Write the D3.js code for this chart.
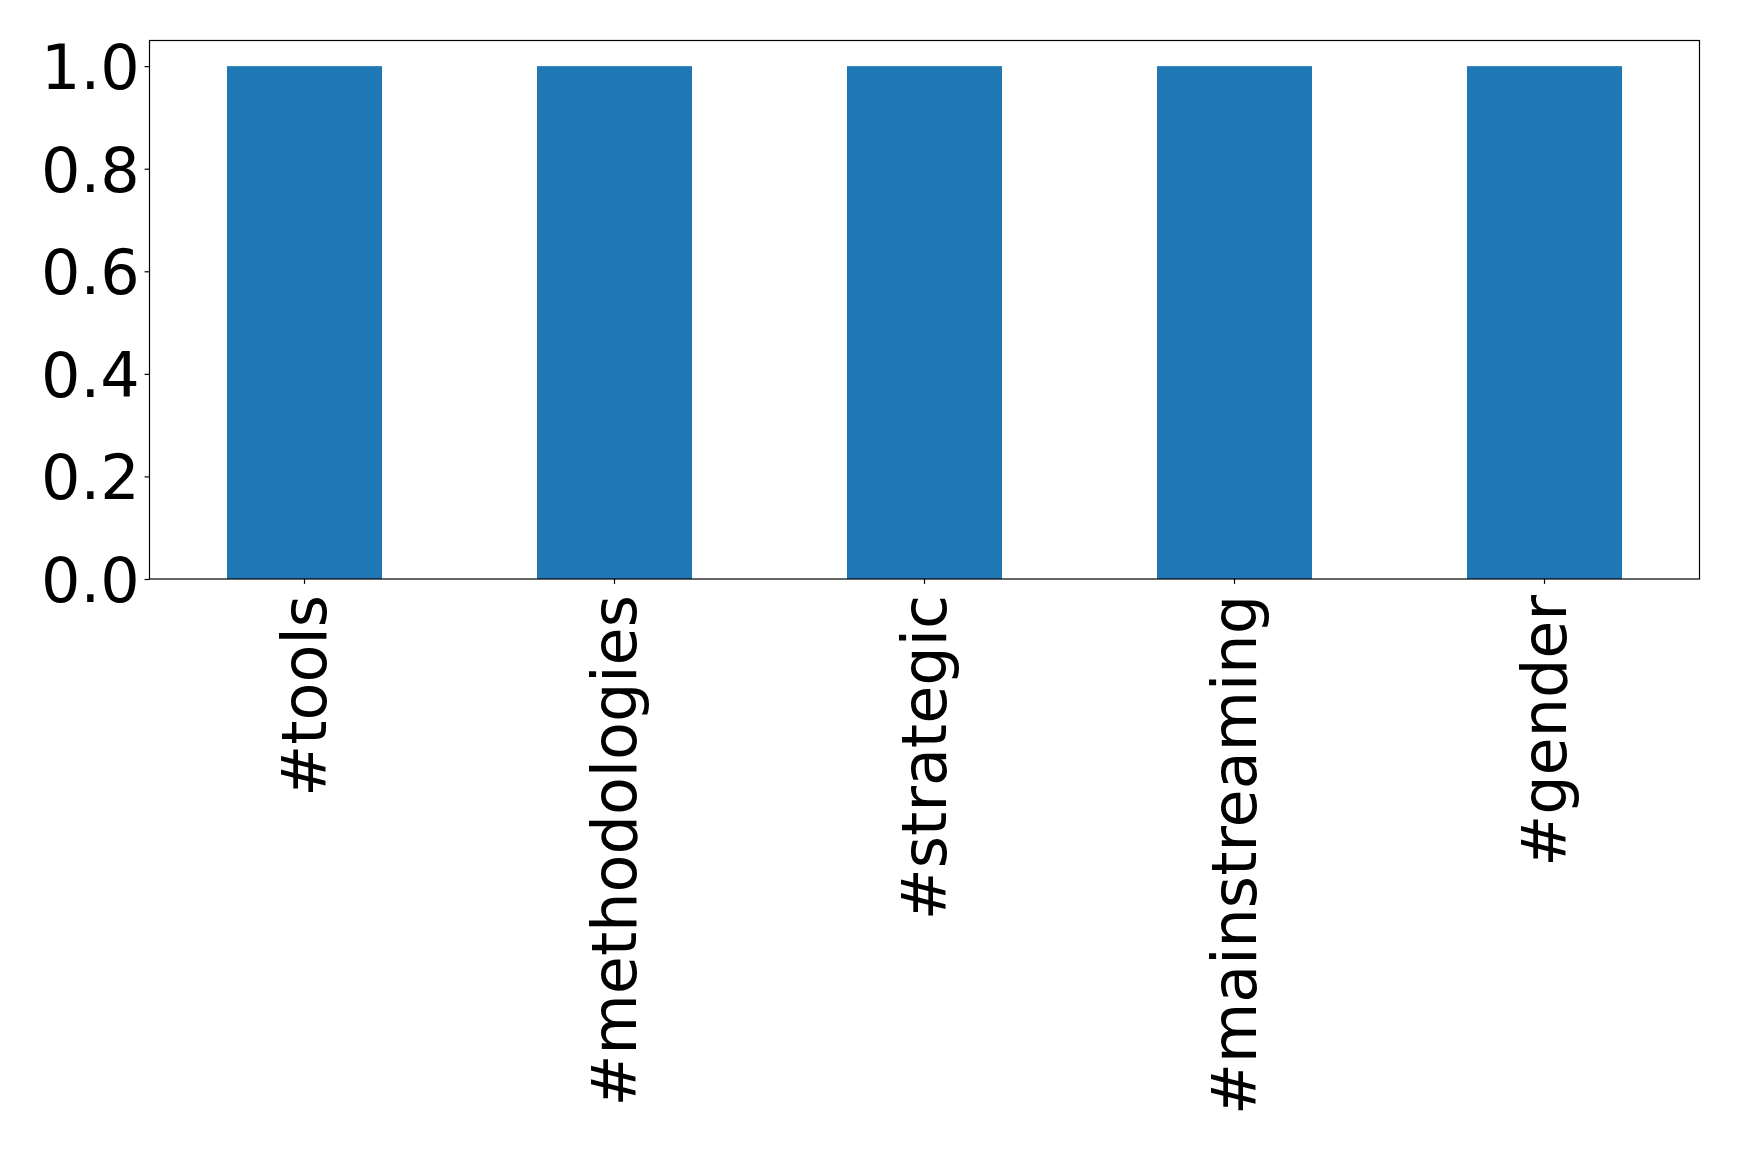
<!DOCTYPE html>
<html>
<head>
<meta charset="utf-8">
<script src="https://cdn.jsdelivr.net/npm/d3@7"></script>
<style>
  html, body { margin: 0; padding: 0; background: #fff; }
  svg { display: block; }
</style>
</head>
<body>
<script>
const categories = ["#tools", "#methodologies", "#strategic", "#mainstreaming", "#gender"];
const values = [1, 1, 1, 1, 1];
const yTicks = [0.0, 0.2, 0.4, 0.6, 0.8, 1.0];

const W = 1739, H = 1152;
const margin = { left: 149.5, top: 40.5, right: W - 1699.5, bottom: H - 579 };
const fontSize = 62;
const font = "'DejaVu Sans', sans-serif";

const svg = d3.select("body").append("svg").attr("width", W).attr("height", H);

const x = d3.scaleBand().domain(categories).range([margin.left, W - margin.right]).paddingInner(0.5).paddingOuter(0.25);
const y = d3.scaleLinear().domain([0, 1.05]).range([H - margin.bottom, margin.top]);

svg.append("g").selectAll("rect").data(categories).join("rect")
  .attr("x", d => x(d))
  .attr("width", x.bandwidth())
  .attr("y", (d, i) => y(values[i]))
  .attr("height", (d, i) => y(0) - y(values[i]))
  .attr("fill", "#1f77b4");

// frame
svg.append("rect")
  .attr("x", margin.left).attr("y", margin.top)
  .attr("width", W - margin.right - margin.left)
  .attr("height", H - margin.bottom - margin.top)
  .attr("fill", "none").attr("stroke", "#000").attr("stroke-width", 1.2);

const yAxis = d3.axisLeft(y).tickValues(yTicks).tickFormat(d3.format(".1f")).tickSize(4.9).tickPadding(4.9);
const gy = svg.append("g").attr("transform", `translate(${margin.left},0)`).call(yAxis);
gy.select(".domain").remove();
gy.selectAll("line").attr("stroke", "#000").attr("stroke-width", 1.2);
gy.selectAll("text").attr("font-family", font).attr("font-size", fontSize).attr("fill", "#000").attr("dy", "0.36em");

const xAxis = d3.axisBottom(x).tickSize(4.9).tickPadding(4.9);
const gx = svg.append("g").attr("transform", `translate(0,${H - margin.bottom})`).call(xAxis);
gx.select(".domain").remove();
gx.selectAll("line").attr("stroke", "#000").attr("stroke-width", 1.2);
gx.selectAll("text")
  .attr("font-family", font).attr("font-size", fontSize).attr("fill", "#000")
  .attr("text-anchor", "end")
  .attr("x", 0).attr("y", 0).attr("dy", "0.35em")
  .attr("transform", "translate(0,16) rotate(-90)");
</script>
</body>
</html>
